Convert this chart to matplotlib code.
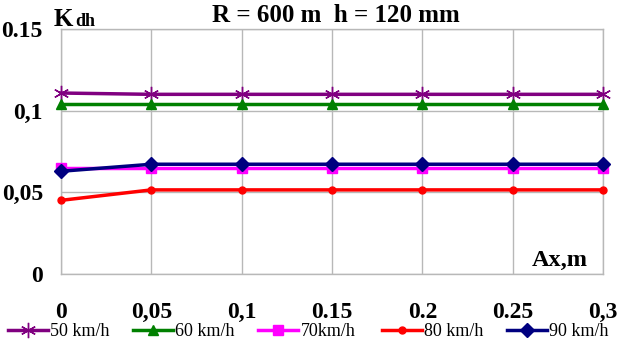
import matplotlib
matplotlib.use("Agg")
import matplotlib.pyplot as plt
from matplotlib.ticker import FixedLocator, FixedFormatter

x = [0, 0.05, 0.1, 0.15, 0.2, 0.25, 0.3]
x_labels = ["0", "0,05", "0,1", "0.15", "0.2", "0.25", "0,3"]
y_ticks = [0, 0.05, 0.1, 0.15]
y_labels = ["0", "0,05", "0,1", "0.15"]

v50 = [0.1108, 0.110, 0.110, 0.110, 0.110, 0.110, 0.110]
v60 = [0.1043, 0.1043, 0.1043, 0.1043, 0.1043, 0.1043, 0.1043]
v70 = [0.0651, 0.0651, 0.0651, 0.0651, 0.0651, 0.0651, 0.0651]
v80 = [0.0451, 0.0515, 0.0515, 0.0515, 0.0515, 0.0515, 0.0515]
v90 = [0.0629, 0.0672, 0.0672, 0.0672, 0.0672, 0.0672, 0.0672]

names = ["50 km/h", "60 km/h", "70km/h", "80 km/h", "90 km/h"]

plt.rcParams['font.family'] = ['Liberation Serif', 'DejaVu Serif']

fig = plt.figure(figsize=(6.31, 3.46), dpi=100)
W, H = 631, 346
ax = fig.add_axes([61 / W, 1 - 274 / H, (603 - 61) / W, (274 - 29) / H])

series = [
    (v50, "#800080", dict(marker=(6, 2, 0), markersize=11, markeredgewidth=1.0)),
    (v60, "#008000", dict(marker="^", markersize=7.5)),
    (v70, "#FF00FF", dict(marker="s", markersize=7.5)),
    (v80, "#FF0000", dict(marker="o", markersize=5)),
    (v90, "#000080", dict(marker="D", markersize=7)),
]
handles = []
for (vals, col, mk), name in zip(series, names):
    h, = ax.plot(x, vals, color=col, lw=2.5, markerfacecolor=col,
                 markeredgecolor=col, label=name, clip_on=False, zorder=3, **mk)
    handles.append(h)

ax.set_xlim(0, 0.3)
ax.set_ylim(0, 0.15)
ax.xaxis.set_major_locator(FixedLocator(x))
ax.xaxis.set_major_formatter(FixedFormatter(x_labels))
ax.yaxis.set_major_locator(FixedLocator(y_ticks))
ax.yaxis.set_major_formatter(FixedFormatter(y_labels))
ax.grid(True, color="#b8b8b8", lw=1.0)
ax.set_axisbelow(True)
for s in ax.spines.values():
    s.set_color("#b8b8b8")
    s.set_linewidth(1.0)
ax.tick_params(axis="both", length=0, labelsize=17)
ax.tick_params(axis="x", pad=20)
ax.tick_params(axis="y", pad=13)
for lab in ax.get_xticklabels() + ax.get_yticklabels():
    lab.set_fontweight("bold")

fig.text(336 / W, 1 - 15 / H, "R = 600 m  h = 120 mm", ha="center", va="center",
         fontsize=18, fontweight="bold")
fig.text(54 / W, 1 - 19 / H, "K", ha="left", va="center", fontsize=18, fontweight="bold")
fig.text(75 / W, 1 - 22 / H, "dh", ha="left", va="center", fontsize=13, fontweight="bold")
ax.text(0.2917, 0.0086, "Ax,m", ha="right", va="center", fontsize=17.5, fontweight="bold")

starts = [8, 133, 258, 382, 507]
for h, name, sx in zip(handles, names, starts):
    fig.legend([h], [name], loc="center left", bbox_to_anchor=(sx / W, 1 - 332 / H),
               frameon=False, fontsize=13, handlelength=2.2, handletextpad=0.15,
               borderpad=0, borderaxespad=0)

fig.savefig("out.png", dpi=100)
